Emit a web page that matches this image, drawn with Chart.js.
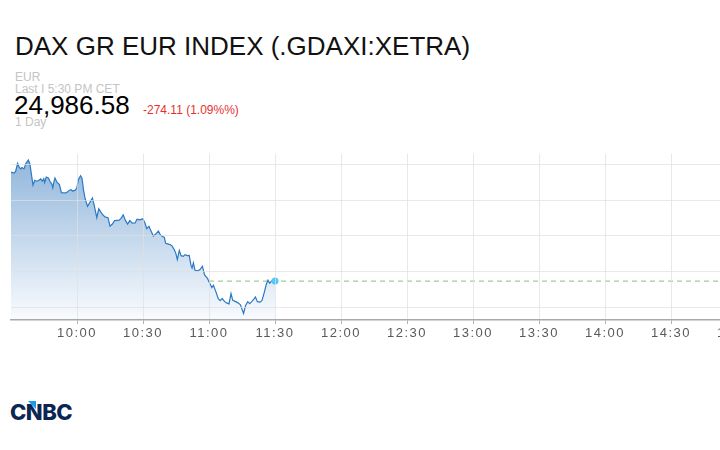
<!DOCTYPE html>
<html>
<head>
<meta charset="utf-8">
<script src="https://cdn.jsdelivr.net/npm/chart.js@4"></script>
<style>
html,body{margin:0;padding:0;width:720px;height:450px;overflow:hidden;background:#fff;font-family:"Liberation Sans",Arial,sans-serif;}
.t{position:absolute;white-space:nowrap;line-height:1;}
#title{left:15px;top:33px;font-size:26px;color:#111;}
#cur{left:15px;top:71px;font-size:12px;color:#c4c4c4;}
#last{left:15px;top:83px;font-size:12px;color:#c4c4c4;}
#price{left:14px;top:92px;font-size:26px;color:#000;}
#chg{left:143px;top:104px;font-size:12px;color:#e8312f;}
#per{left:15px;top:116px;font-size:12px;color:#c4c4c4;}
#wrap{position:absolute;left:0;top:150px;width:810px;height:200px;}
#logo{left:10px;top:401px;font-family:Inter,"Liberation Sans",sans-serif;font-weight:800;font-size:22px;color:#0c2653;letter-spacing:-0.5px;}
#tri{position:absolute;left:28px;top:401px;width:8px;height:8px;background:#1d9be8;clip-path:polygon(0 0,100% 0,100% 100%);}
</style>
</head>
<body>
<div class="t" id="title">DAX GR EUR INDEX (.GDAXI:XETRA)</div>
<div class="t" id="cur">EUR</div>
<div class="t" id="last">Last I 5:30 PM CET</div>
<div class="t" id="price">24,986.58</div>
<div class="t" id="chg">-274.11 (1.09%%)</div>
<div class="t" id="per">1 Day</div>
<div id="wrap"><canvas id="c"></canvas></div>
<div class="t" id="logo">CNBC</div>
<div id="tri"></div>
<script>
// minutes after the 09:30 start of the chart
const minutesFromStart = [0,1.4,2.1,3.0,3.8,4.4,5.0,5.9,6.8,7.9,
8.6,10.0,10.8,11.7,12.7,13.5,14.2,14.9,15.3,16.0,
17.0,17.7,18.5,19.0,19.5,20.0,20.8,22.0,22.9,24.1,
25.3,26.4,27.3,28.0,29.0,29.9,30.6,31.6,32.3,33.0,
33.8,34.8,35.8,37.0,37.9,39.0,39.9,40.9,41.5,42.7,
44.1,45.0,46.1,47.1,48.0,49.2,50.1,51.0,52.0,53.0,
54.0,55.1,56.4,57.3,58.6,59.9,60.9,61.7,62.7,63.6,
64.7,65.8,67.0,67.7,68.5,69.7,70.3,71.2,72.3,73.2,
74.1,74.9,75.6,76.5,77.3,78.3,79.1,80.1,81.0,81.8,
82.3,82.9,83.6,84.7,85.9,87.0,88.0,89.3,90.5,91.3,
92.0,93.2,94.2,95.1,96.0,97.0,98.0,99.1,100.0,100.8,
101.9,103.2,104.3,105.7,106.6,107.6,108.5,109.4,110.5,111.1,
112.0,113.2,114.1,115.1,116.0,116.8,117.6,118.4,120.0];
const indexValues = [25278.1,25275.3,25280.0,25302.7,25291.0,25287.1,25291.0,25287.1,25302.7,25311.8,
25300.0,25241.6,25255.3,25252.6,25255.3,25258.9,25252.6,25259.7,25248.8,25264.4,
25261.6,25252.6,25245.2,25234.2,25250.7,25261.6,25250.7,25243.3,25220.5,25219.7,
25220.5,25226.8,25228.8,25225.2,25226.8,25232.3,25257.0,25267.9,25260.3,25226.0,
25201.4,25182.2,25193.1,25205.5,25183.0,25150.7,25175.3,25165.8,25160.3,25152.9,
25150.7,25126.8,25132.9,25142.2,25143.0,25143.8,25149.3,25158.4,25143.0,25132.9,
25142.5,25135.1,25135.6,25146.6,25144.7,25147.4,25135.6,25120.0,25126.6,25113.7,
25099.2,25104.7,25112.9,25104.7,25099.2,25095.3,25078.9,25077.3,25075.3,25071.8,
25062.5,25051.5,25033.4,25058.9,25044.4,25042.5,25047.1,25044.4,25045.2,25017.8,
25009.6,25024.1,25004.1,25001.4,25005.5,25014.2,24990.4,24980.8,24964.9,24955.3,
24961.6,24942.5,24923.8,24918.4,24924.7,24916.4,24912.3,24909.6,24938.4,24919.2,
24916.4,24912.3,24906.8,24882.7,24904.1,24915.6,24910.1,24915.6,24923.3,24928.8,
24915.6,24914.5,24919.2,24941.1,24963.0,24975.9,24967.1,24973.2,24973.2];
const startTime = '09:30';
const tickLabels = ['10:00','10:30','11:00','11:30','12:00','12:30','13:00','13:30','14:00','14:30','15:00'];
const gridValues = [24900,25000,25100,25200,25300];
const axisRange = {xMin:0, xMax:360, yMin:24864.4, yMax:25330.1};

const toMin = s => { const [h,m] = s.split(':').map(Number); return h*60+m; };
const tickMinutes = tickLabels.map(l => toMin(l) - toMin(startTime));
const lastValue = indexValues[indexValues.length-1];
const lastIdx = indexValues.length-1;

const spacing = {
  id:'spacing',
  beforeDraw(c){ c.ctx.letterSpacing = '1.5px'; },
  afterDraw(c){ c.ctx.letterSpacing = '0px'; }
};

new Chart(document.getElementById('c'), {
  type:'line',
  data:{
    datasets:[
      {
        data: minutesFromStart.map((m,i)=>({x:m,y:indexValues[i]})),
        borderColor:'#2a79c4',
        borderWidth:1.2,
        tension:0,
        fill:'start',
        backgroundColor:(ctx)=>{
          const a = ctx.chart.chartArea;
          if(!a) return 'rgba(0,0,0,0)';
          const g = ctx.chart.ctx.createLinearGradient(0,a.top,0,a.bottom);
          g.addColorStop(0,'rgb(142,180,218)');
          g.addColorStop(1,'rgb(249,251,254)');
          return g;
        },
        pointRadius:(ctx)=> ctx.dataIndex===lastIdx ? 3.5 : 0,
        pointBackgroundColor:'#55c6f6',
        pointBorderWidth:0,
        pointHoverRadius:0,
        order:1
      },
      {
        data:[{x:axisRange.xMin,y:lastValue},{x:axisRange.xMax,y:lastValue}],
        borderColor:'#9fd18f',
        borderWidth:1.2,
        borderDash:[5,4],
        pointRadius:0,
        fill:false,
        order:2
      }
    ]
  },
  options:{
    responsive:true,
    maintainAspectRatio:false,
    animation:false,
    events:[],
    layout:{padding:{left:11,right:7,top:0,bottom:0}},
    plugins:{legend:{display:false},tooltip:{enabled:false}},
    scales:{
      x:{
        type:'linear',
        min:axisRange.xMin,
        max:axisRange.xMax,
        afterBuildTicks:(s)=>{ s.ticks = tickMinutes.map(v=>({value:v})); },
        afterFit:(s)=>{ s.height = 30; },
        ticks:{
          autoSkip:false,
          maxRotation:0,
          padding:2,
          color:'#5a5a5a',
          font:{family:'"Liberation Sans", Arial, sans-serif', size:13},
          callback:(v)=>{ const i = tickMinutes.indexOf(v); return i>=0 ? tickLabels[i] : ''; }
        },
        grid:{color:'rgba(224,224,224,0.7)', lineWidth:1, drawTicks:true, tickLength:4, tickColor:'#b0b0b0', z:1},
        border:{display:true, color:'#a8a8a8', width:1.5, z:1}
      },
      y:{
        min:axisRange.yMin,
        max:axisRange.yMax,
        afterBuildTicks:(s)=>{ s.ticks = gridValues.map(v=>({value:v})); },
        ticks:{display:false},
        grid:{color:'rgba(224,224,224,0.7)', lineWidth:1, drawTicks:false, z:1},
        border:{display:false}
      }
    }
  },
  plugins:[spacing]
});
</script>
</body>
</html>
